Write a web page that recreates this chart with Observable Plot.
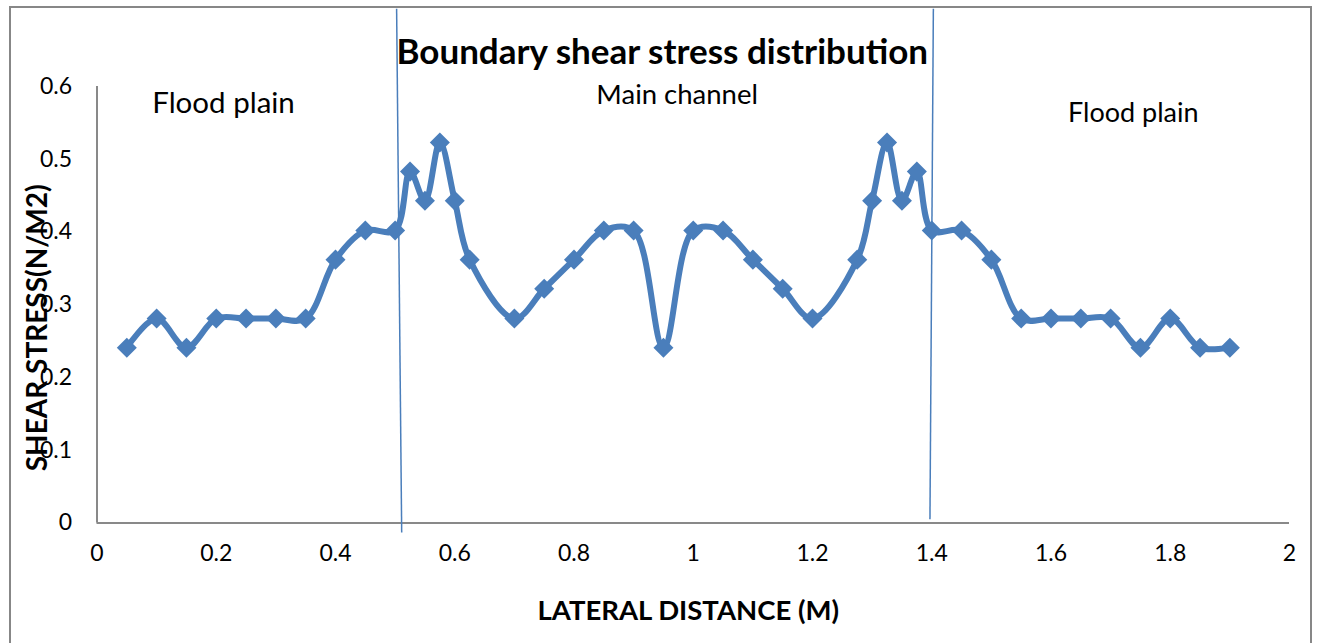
<!DOCTYPE html>
<html>
<head>
<meta charset="utf-8">
<script src="https://cdn.jsdelivr.net/npm/d3@7"></script>
<script src="https://cdn.jsdelivr.net/npm/@observablehq/plot@0.6"></script>
<style>
  body { margin: 0; background: #fff; }
  #chart { position: relative; width: 1319px; height: 643px; overflow: hidden; }
  #border { position: absolute; left: 9px; top: 6px; width: 1303px; height: 680px;
            border: 2px solid #878787; box-sizing: border-box; }
  #chart svg { position: absolute; left: 0; top: 0; }
</style>
</head>
<body>
<div id="chart"><div id="border"></div></div>
<script>
// Lateral positions across the compound channel (m)
const distance = [0.05, 0.1, 0.15, 0.2, 0.25, 0.3, 0.35, 0.4, 0.45, 0.5,
  0.525, 0.55, 0.575, 0.6, 0.625, 0.7, 0.75, 0.8, 0.85, 0.9, 0.95,
  1.0, 1.05, 1.1, 1.15, 1.2, 1.275, 1.3, 1.325, 1.35, 1.375, 1.4,
  1.45, 1.5, 1.55, 1.6, 1.65, 1.7, 1.75, 1.8, 1.85, 1.9];

// Boundary shear stress at each position (N/m2)
const shearStress = [0.241, 0.281, 0.241, 0.281, 0.281, 0.281, 0.281, 0.362, 0.402, 0.402,
  0.483, 0.443, 0.523, 0.443, 0.362, 0.281, 0.322, 0.362, 0.402, 0.402, 0.241,
  0.402, 0.402, 0.362, 0.322, 0.281, 0.362, 0.443, 0.523, 0.443, 0.483, 0.402,
  0.402, 0.362, 0.281, 0.281, 0.281, 0.281, 0.241, 0.281, 0.241, 0.241];

// Axis ticks
const xTicks = [0, 0.2, 0.4, 0.6, 0.8, 1, 1.2, 1.4, 1.6, 1.8, 2];
const yTicks = [0, 0.1, 0.2, 0.3, 0.4, 0.5, 0.6];

// Hand-drawn separators between flood plains and main channel (data units)
const dividerX1 = [0.5025, 1.4027];
const dividerY1 = [0.707, 0.707];
const dividerX2 = [0.511, 1.397];
const dividerY2 = [-0.013, 0.005];

// Region annotations
const regionNames = ["Flood plain", "Main channel", "Flood plain"];
const regionX = [0.2122, 0.973, 1.738];
const regionY = [0.5766, 0.5876, 0.563];

const chartTitle = "Boundary shear stress distribution";
const xTitle = "LATERAL DISTANCE (M)";
const yTitle = "SHEAR STRESS(N/M2)";

const series = distance.map((x, i) => ({x, y: shearStress[i]}));
const dividers = dividerX1.map((x1, i) => ({x1, y1: dividerY1[i], x2: dividerX2[i], y2: dividerY2[i]}));
const regions = regionNames.map((name, i) => ({name, x: regionX[i], y: regionY[i]}));
const regionFontSize = [29.5, 27.5, 27];

const blue = "#4a7ebb";
const axisGray = "#898989";
const font = "Lato, 'Open Sans', sans-serif";

const plot = Plot.plot({
  width: 1319,
  height: 643,
  marginLeft: 96.5,
  marginRight: 30,
  marginTop: 86,
  marginBottom: 120.5,
  style: {fontFamily: font, color: "#000", background: "transparent", overflow: "visible"},
  x: {domain: [0, 2]},
  y: {domain: [0, 0.6]},
  marks: [
    Plot.axisX({ticks: xTicks, tickFormat: d => String(d), tickSize: 0, tickPadding: 22, fontSize: 23, label: null}),
    Plot.axisY({ticks: yTicks, tickFormat: d => String(d), tickSize: 0, tickPadding: 25, fontSize: 23, label: null}),
    Plot.ruleX([0], {stroke: axisGray, strokeWidth: 2}),
    Plot.ruleY([0], {stroke: axisGray, strokeWidth: 2}),
    Plot.link(dividers, {x1: "x1", y1: "y1", x2: "x2", y2: "y2", stroke: blue, strokeWidth: 1.5}),
    Plot.line(series, {x: "x", y: "y", curve: "catmull-rom", stroke: blue, strokeWidth: 6}),
    Plot.dot(series, {x: "x", y: "y", symbol: "square", r: 8, fill: blue, rotate: 45}),
    ...regions.map((d, i) => Plot.text([d], {x: "x", y: "y", text: "name", fontSize: regionFontSize[i]})),
    Plot.text([chartTitle], {text: d => d, frameAnchor: "top", lineAnchor: "middle", textAnchor: "middle",
      dx: -31, dy: -34, fontSize: 35, fontWeight: "bold"}),
    Plot.text([xTitle], {text: d => d, frameAnchor: "bottom", lineAnchor: "middle", textAnchor: "middle",
      dx: -5, dy: 88, fontSize: 27.5, fontWeight: "bold"}),
    Plot.text([yTitle], {text: d => d, frameAnchor: "left", lineAnchor: "middle", textAnchor: "middle",
      rotate: -90, dx: -58.5, dy: 23, fontSize: 28, fontWeight: "bold"})
  ]
});

document.getElementById("chart").appendChild(plot);
</script>
</body>
</html>
